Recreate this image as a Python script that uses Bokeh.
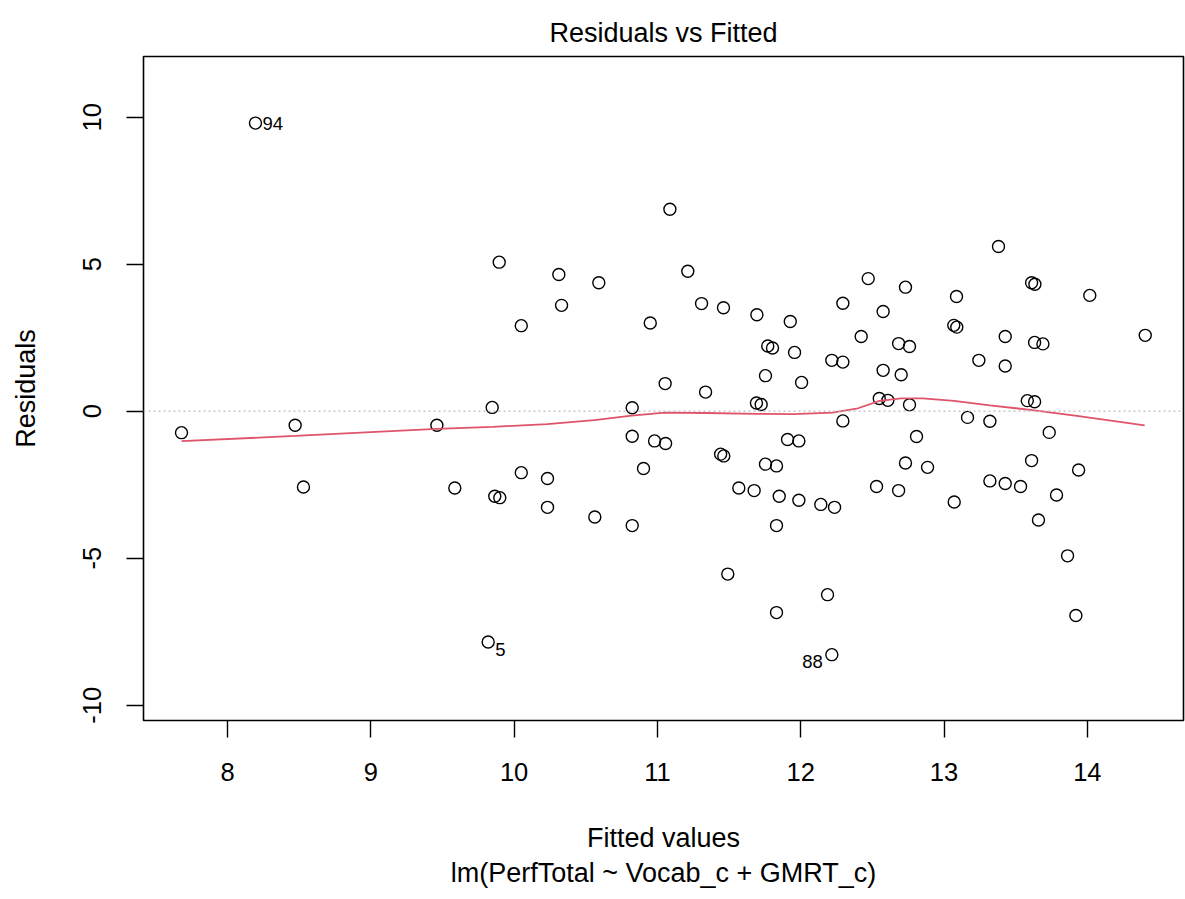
from bokeh.plotting import figure
from bokeh.models import Range1d, FixedTicker, Span, Title, ColumnDataSource
from bokeh.embed import file_html
from bokeh.resources import INLINE
from bokeh.core.properties import value

FONT = "Liberation Sans"

# ---- data ----
fitted = [8.195, 9.896, 10.05, 7.679, 8.472, 8.530, 9.461, 9.847, 9.586, 9.865, 9.900, 10.05, 9.819,
          11.087, 10.312, 10.591, 10.331, 11.212, 10.950, 11.308, 11.461, 11.694, 11.927, 12.294, 11.770,
          11.803, 11.957, 12.217, 12.294, 11.754, 12.006, 11.054, 11.336, 10.824, 11.691, 11.724, 12.294,
          10.824, 10.980, 11.057, 11.441, 11.463, 10.903, 10.233, 10.233, 10.563, 10.824, 11.754, 11.831,
          11.908, 11.987, 11.568, 11.675, 11.850, 11.987, 12.140, 12.236, 11.831, 11.491, 12.187, 11.831, 12.217,
          13.380, 12.471, 12.731, 13.087, 13.611, 13.634, 14.017, 12.575, 13.068, 13.089, 12.422, 13.427,
          14.404, 12.683, 12.759, 13.632, 13.690, 12.575, 12.701, 13.243, 13.427, 12.548, 12.608, 12.759,
          13.581, 13.632, 13.164, 13.320, 13.734,
          12.808, 12.731, 12.885, 13.611, 13.939, 12.529, 12.683, 13.320, 13.427, 13.534, 13.785, 13.071,
          13.659, 13.862, 13.920]
residuals = [9.80, 5.07, 2.91, -0.73, -0.48, -2.58, -0.48, 0.13, -2.61, -2.89, -2.94, -2.09, -7.85,
             6.87, 4.65, 4.37, 3.60, 4.76, 3.00, 3.66, 3.52, 3.28, 3.05, 3.67, 2.22,
             2.15, 2.00, 1.73, 1.67, 1.21, 0.98, 0.94, 0.65, 0.12, 0.28, 0.23, -0.33,
             -0.85, -1.01, -1.10, -1.46, -1.52, -1.95, -2.29, -3.27, -3.60, -3.89, -1.80, -1.86,
             -0.96, -1.01, -2.61, -2.70, -2.89, -3.03, -3.17, -3.27, -3.89, -5.54, -6.24, -6.85, -8.28,
             5.60, 4.51, 4.22, 3.90, 4.37, 4.32, 3.94, 3.39, 2.92, 2.86, 2.54, 2.54,
             2.58, 2.30, 2.20, 2.34, 2.29, 1.39, 1.24, 1.73, 1.54, 0.43, 0.37, 0.22,
             0.36, 0.32, -0.21, -0.34, -0.72,
             -0.86, -1.76, -1.91, -1.68, -2.00, -2.56, -2.70, -2.37, -2.46, -2.56, -2.85, -3.09,
             -3.70, -4.92, -6.95]

smooth_x = [7.68, 8.47, 9.46, 9.85, 10.23, 10.56, 10.82, 11.05, 11.34, 11.69, 11.95, 12.22, 12.40,
            12.55, 12.70, 12.85, 13.07, 13.32, 13.63, 13.94, 14.40]
smooth_y = [-1.02, -0.84, -0.60, -0.53, -0.44, -0.30, -0.15, -0.05, -0.06, -0.09, -0.10, -0.05, 0.10,
            0.35, 0.44, 0.44, 0.35, 0.20, 0.03, -0.17, -0.48]

id_labels = ["94", "5", "88"]
id_x = [8.195, 9.819, 12.217]
id_y = [9.80, -7.85, -8.28]
id_align = ["left", "left", "right"]
id_dx = [7, 7, -9]
id_dy = [0, 7, 7]

x_ticks = [8, 9, 10, 11, 12, 13, 14]
y_ticks = [-10, -5, 0, 5, 10]
y_tick_labels = ["-10", "-5", "0", "5", "10"]

p = figure(width=1185, height=899, output_backend="svg", toolbar_location=None,
           x_range=Range1d(7.4138, 14.671), y_range=Range1d(-10.52, 12.065),
           min_border_left=143, min_border_right=2, min_border_top=56, min_border_bottom=179,
           background_fill_color="white", border_fill_color="white")

p.grid.visible = False
p.outline_line_color = "black"
p.outline_line_width = 1.6

p.title.text = "Residuals vs Fitted"
p.title.align = "center"
p.title.text_font = FONT
p.title.text_font_size = "27px"
p.title.text_font_style = "normal"
p.title.text_color = "black"
p.title.standoff = 18

for ax in (p.xaxis[0], p.yaxis[0]):
    ax.axis_line_color = None
    ax.major_tick_line_color = "black"
    ax.major_tick_line_width = 1.4
    ax.major_tick_out = 17
    ax.major_tick_in = 0
    ax.minor_tick_line_color = None
    ax.major_label_text_font = FONT
    ax.major_label_text_font_size = "25.5px"
    ax.major_label_text_color = "black"
    ax.axis_label_text_font = FONT
    ax.axis_label_text_font_size = "27px"
    ax.axis_label_text_font_style = "normal"
    ax.axis_label_text_color = "black"

p.xaxis[0].ticker = FixedTicker(ticks=x_ticks)
p.yaxis[0].ticker = FixedTicker(ticks=y_ticks)
p.yaxis[0].major_label_overrides = {t: s for t, s in zip(y_ticks, y_tick_labels)}
p.yaxis[0].major_label_orientation = "vertical"
p.xaxis[0].major_label_standoff = 25
p.yaxis[0].major_label_standoff = 25
p.xaxis[0].axis_label = "Fitted values"
p.yaxis[0].axis_label = "Residuals"
p.xaxis[0].axis_label_standoff = 39
p.yaxis[0].axis_label_standoff = 40

sub = Title(text="lm(PerfTotal ~ Vocab_c + GMRT_c)", align="center", text_font=FONT,
            text_font_size="27px", text_font_style="normal", text_color="black", standoff=0)
p.add_layout(sub, "below")

p.add_layout(Span(location=0, dimension="width", line_color="#BEBEBE", line_dash="2 3", line_width=1.3))

p.scatter(fitted, residuals, size=12, marker="circle", fill_color=None,
          line_color="black", line_width=1.4)

p.line(smooth_x, smooth_y, line_color="#DF536B", line_width=1.8)

lab_src = ColumnDataSource(dict(x=id_x, y=id_y, t=id_labels, a=id_align, dx=id_dx, dy=id_dy))
p.text(x="x", y="y", text="t", source=lab_src, text_align="a", x_offset="dx", y_offset="dy",
       text_baseline="middle", text_font=value(FONT), text_font_size="18.5px", text_color="black")

open("out.html", "w").write(file_html(p, INLINE))
